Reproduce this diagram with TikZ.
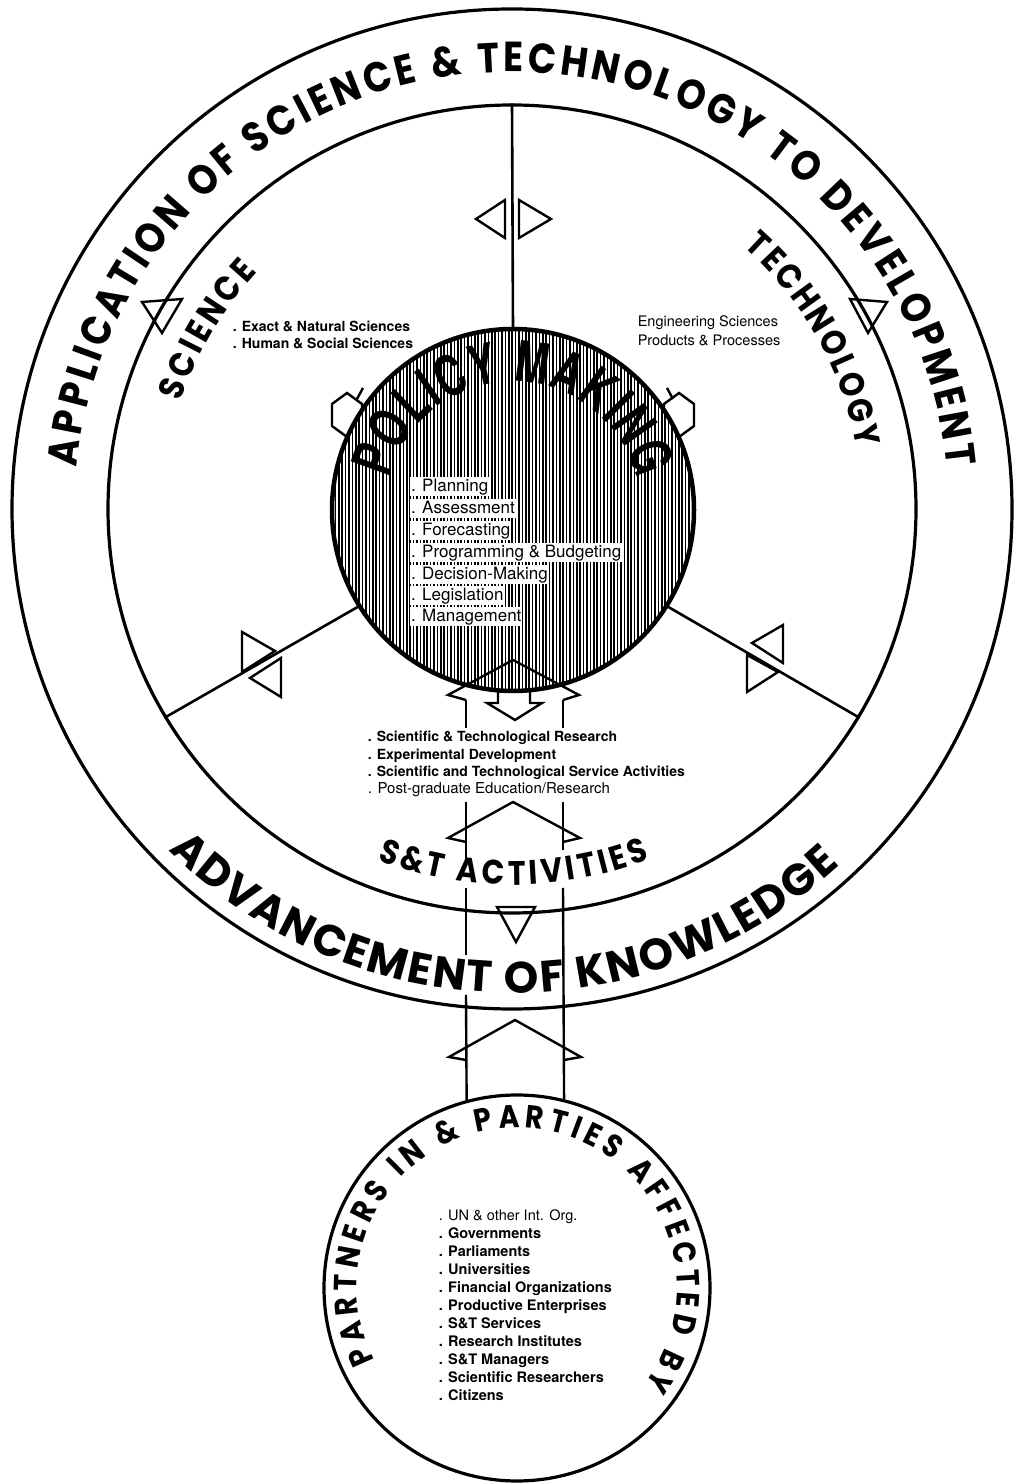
\documentclass[tikz,border=0pt]{standalone}
\usepackage{fontspec}
\setmainfont{TeX Gyre Heros}
\newfontfamily\ringfont[FakeStretch=0.88]{Poppins}
\newfontfamily\wideringfont{Poppins}
\newfontfamily\condfont[FakeStretch=0.72]{TeX Gyre Heros}
\usetikzlibrary{decorations.text}

\begin{document}
\begin{tikzpicture}[x=1pt, y=1pt,
  ring/.style={draw, circle, inner sep=0pt, line width=3.2pt},
  marker/.style={line width=2.4pt, line join=miter},
  shaft/.style={line width=2.4pt},
  listtext/.style={anchor=west, inner sep=0.6pt, text height=10pt, text depth=3pt},
  pmtext/.style={anchor=west, fill=white, inner xsep=1pt, inner ysep=1.5pt, text height=12.5pt, text depth=3.5pt, font=\fontsize{17}{19}\selectfont}]
\useasboundingbox (0,0) rectangle (1016,1483);

% rings
\node[ring, minimum size=1000pt] (outer) at (512,974) {};
\node[ring, minimum size=808pt] (inner) at (512,974) {};
\node[ring, minimum size=386pt] (partners) at (517,195) {};

% little hexagons on the policy circle
\draw[marker] (362,1079) -- (347,1090) -- (332,1079) -- (332,1057) -- (347,1046) -- (362,1057) -- cycle;
\draw[marker] (357,1084) -- (363,1095);
\draw[marker] (694,1079) -- (679,1090) -- (664,1079) -- (664,1057) -- (679,1046) -- (694,1057) -- cycle;
\draw[marker] (673,1084) -- (667,1095);

% policy circle, hatched
\node[circle, inner sep=0pt, minimum size=362pt, fill=white] (policy) at (513,973) {};
\begin{scope}
\clip (policy.center) circle[radius=181];
\foreach \hx in {332,335.4,...,696} \draw[line width=1.7pt] (\hx,790) -- (\hx,1156);
\end{scope}
\draw[line width=4.5pt] (policy.center) circle[radius=181];

% spokes
\draw[line width=2.6pt] (policy.90) -- (inner.90);
\draw[line width=2.6pt] (policy.212) -- (inner.211);
\draw[line width=2.6pt] (policy.328) -- (inner.329.5);

% triangles on the spokes
\draw[marker] (505,1283) -- (476,1264) -- (505,1245) -- cycle;
\draw[marker] (519,1283) -- (551,1264) -- (519,1245) -- cycle;
\draw[marker] (242,851) -- (275,832) -- (242,811) -- cycle;
\draw[marker] (281,825) -- (250,805) -- (281,786) -- cycle;
\draw[marker] (783,858) -- (752,840) -- (783,820) -- cycle;
\draw[marker] (747,828) -- (778,811) -- (747,791) -- cycle;

% triangles on the inner ring
\draw[marker] (142,1181) -- (182,1184) -- (162,1150) -- cycle;
\draw[marker] (850,1184) -- (887,1181) -- (868,1150) -- cycle;
\draw[marker] (497,576) -- (535,576) -- (516,541) -- cycle;

% the big hollow arrow
\draw[shaft] (466,783) -- (466,755);
\draw[shaft] (563,783) -- (563,755);
\draw[shaft] (466,681) -- (466,621);
\draw[shaft] (563,681) -- (563,633);
\draw[shaft] (466,595) -- (466,528);
\draw[shaft] (466,488) -- (partners.105);
\draw[shaft] (563,595) -- (partners.76);
\draw[marker] (466,783) -- (448,788) -- (513,823) -- (579,788) -- (563,783);
\draw[marker] (498,791) -- (498,780) -- (487,780) -- (515,763) -- (542,780) -- (530,780) -- (530,791);
\draw[marker] (466,641) -- (448,645) -- (513,681) -- (580,645) -- (563,641);
\draw[marker] (466,423) -- (449,426) -- (515,463) -- (581,426) -- (564,423);

% curved titles
\path[decorate, decoration={text along path, text align=fit to path,
  text={|\ringfont\bfseries\fontsize{42}{42}\selectfont|APPLICATION OF SCIENCE {\&} TECHNOLOGY TO DEVELOPMENT}}]
  ([shift={(174.5:437)}]outer.center) arc[start angle=174.5, end angle=5.5, radius=437];
\path[decorate, decoration={text along path, text align=fit to path,
  text={|\wideringfont\bfseries\fontsize{44}{44}\selectfont|ADVANCEMENT OF KNOWLEDGE}}]
  ([shift={(224.8:484)}]outer.center) arc[start angle=224.8, end angle=312.6, radius=484];
\path[decorate, decoration={text along path, text align=fit to path,
  text={|\ringfont\bfseries\fontsize{34}{34}\selectfont|S{\&}T ACTIVITIES}}]
  ([shift={(249:376)}]outer.center) arc[start angle=249, end angle=291.5, radius=376];
\path[decorate, decoration={text along path, text align=fit to path,
  text={|\ringfont\bfseries\fontsize{35}{35}\selectfont|SCIENCE}}]
  ([shift={(162:348)}]outer.center) arc[start angle=162, end angle=137, radius=348];
\path[decorate, decoration={text along path, text align=fit to path,
  text={|\ringfont\bfseries\fontsize{35}{35}\selectfont|TECHNOLOGY}}]
  ([shift={(48.5:350)}]outer.center) arc[start angle=48.5, end angle=10, radius=350];
\path[decorate, decoration={text along path, text align=fit to path,
  text={|\condfont\bfseries\fontsize{56}{56}\selectfont|POLICY MAKING}}]
  ([shift={(166:128)}]policy.center) arc[start angle=166, end angle=14, radius=128];
\path[decorate, decoration={text along path, text align=fit to path,
  text={|\ringfont\bfseries\fontsize{32}{32}\selectfont|PARTNERS IN {\&} PARTIES AFFECTED BY}}]
  ([shift={(207:160)}]partners.center) arc[start angle=207, end angle=-37, radius=160];

% lists
\node[listtext, font=\bfseries\fontsize{14}{16}\selectfont] (sci1) at (232,1155) {. Exact \& Natural Sciences};
\node[listtext, font=\bfseries\fontsize{14}{16}\selectfont] (sci2) at (232,1138) {. Human \& Social Sciences};
\node[listtext, font=\fontsize{14.5}{16}\selectfont] (tech1) at (637,1160) {Engineering Sciences};
\node[listtext, font=\fontsize{14.5}{16}\selectfont] (tech2) at (637,1141) {Products \& Processes};

\node[pmtext] (pm1) at (410,996) {. Planning};
\node[pmtext] (pm2) at (410,974) {. Assessment};
\node[pmtext] (pm3) at (410,952) {. Forecasting};
\node[pmtext] (pm4) at (410,930) {. Programming \& Budgeting};
\node[pmtext] (pm5) at (410,908) {. Decision-Making};
\node[pmtext] (pm6) at (410,887) {. Legislation};
\node[pmtext] (pm7) at (410,866) {. Management};

\node[listtext, font=\bfseries\fontsize{14}{16}\selectfont] (act1) at (367,745) {. Scientific \& Technological Research};
\node[listtext, font=\bfseries\fontsize{14}{16}\selectfont] (act2) at (367,727) {. Experimental Development};
\node[listtext, font=\bfseries\fontsize{14}{16}\selectfont] (act3) at (367,710) {. Scientific and Technological Service Activities};
\node[listtext, font=\fontsize{15}{17}\selectfont] (act4) at (367,693) {. Post-graduate Education/Research};

\node[listtext, font=\fontsize{14.5}{16}\selectfont] (pt1) at (438,266) {. UN \& other Int. Org.};
\node[listtext, font=\bfseries\fontsize{14.5}{16}\selectfont] (pt2) at (438,248) {. Governments};
\node[listtext, font=\bfseries\fontsize{14.5}{16}\selectfont] (pt3) at (438,230) {. Parliaments};
\node[listtext, font=\bfseries\fontsize{14.5}{16}\selectfont] (pt4) at (438,212) {. Universities};
\node[listtext, font=\bfseries\fontsize{14.5}{16}\selectfont] (pt5) at (438,194) {. Financial Organizations};
\node[listtext, font=\bfseries\fontsize{14.5}{16}\selectfont] (pt6) at (438,176) {. Productive Enterprises};
\node[listtext, font=\bfseries\fontsize{14.5}{16}\selectfont] (pt7) at (438,158) {. S\&T Services};
\node[listtext, font=\bfseries\fontsize{14.5}{16}\selectfont] (pt8) at (438,140) {. Research Institutes};
\node[listtext, font=\bfseries\fontsize{14.5}{16}\selectfont] (pt9) at (438,122) {. S\&T Managers};
\node[listtext, font=\bfseries\fontsize{14.5}{16}\selectfont] (pt10) at (438,104) {. Scientific Researchers};
\node[listtext, font=\bfseries\fontsize{14.5}{16}\selectfont] (pt11) at (438,86) {. Citizens};
\end{tikzpicture}
\end{document}
